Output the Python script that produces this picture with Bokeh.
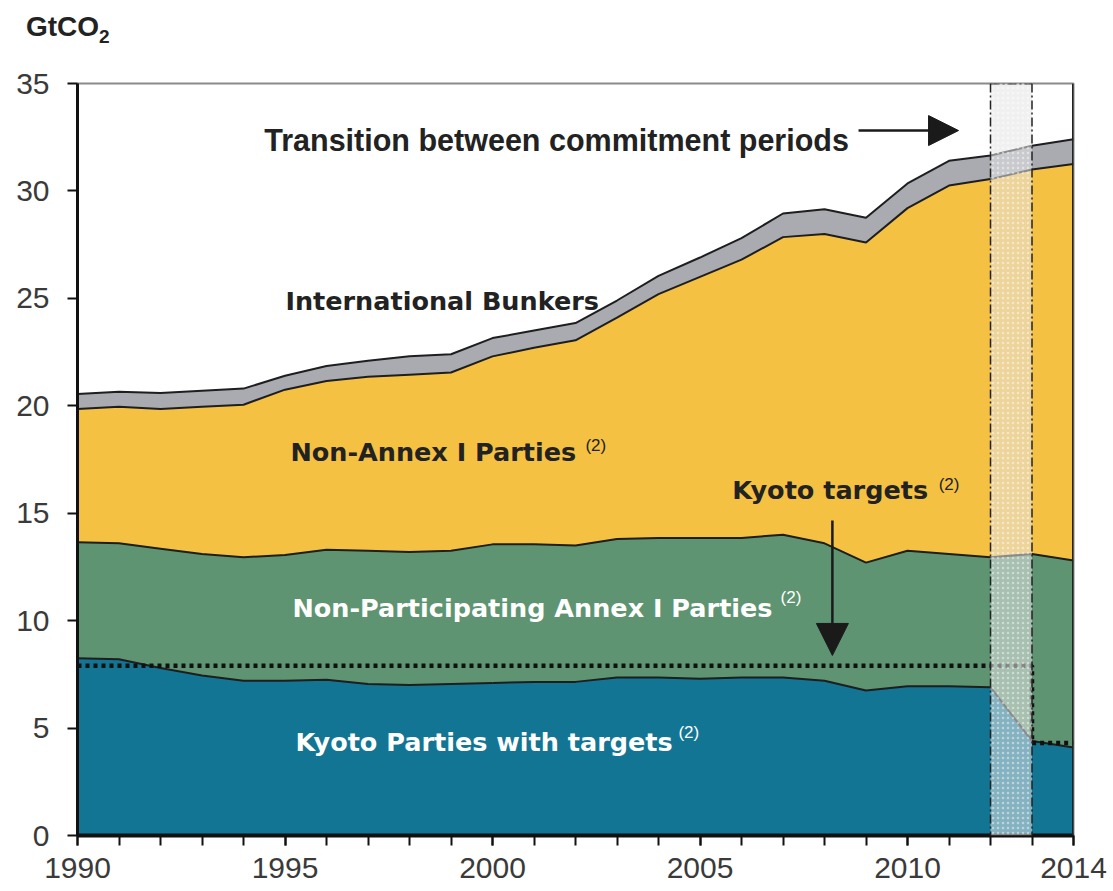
from bokeh.plotting import figure
from bokeh.models import (ColumnDataSource, FixedTicker, Label, Arrow, NormalHead, Span,
                          BoxAnnotation, Div)
from bokeh.layouts import column
from bokeh.embed import file_html
from bokeh.resources import INLINE

# ---------------- data (GtCO2) ----------------
years = list(range(1990, 2015))
kyoto_parties = [8.25, 8.2, 7.8, 7.45, 7.2, 7.2, 7.25, 7.05, 7.0, 7.05, 7.1, 7.15, 7.15,
                 7.35, 7.35, 7.3, 7.35, 7.35, 7.2, 6.75, 6.95, 6.95, 6.9, 4.4, 4.1]
non_participating = [5.4, 5.4, 5.55, 5.65, 5.75, 5.85, 6.05, 6.2, 6.2, 6.2, 6.45, 6.4, 6.35,
                     6.45, 6.5, 6.55, 6.5, 6.65, 6.4, 5.95, 6.3, 6.15, 6.05, 8.7, 8.7]
non_annex = [6.2, 6.35, 6.5, 6.85, 7.1, 7.7, 7.85, 8.1, 8.25, 8.3, 8.75, 9.15, 9.55,
             10.3, 11.35, 12.15, 12.95, 13.85, 14.4, 14.9, 15.95, 17.15, 17.6, 17.9, 18.45]
bunkers = [0.7, 0.7, 0.75, 0.75, 0.75, 0.65, 0.7, 0.75, 0.85, 0.85, 0.85, 0.8, 0.8,
           0.8, 0.85, 0.9, 1.0, 1.1, 1.15, 1.15, 1.15, 1.15, 1.1, 1.1, 1.15]
target_years = [1990, 2013, 2013, 2014]
target_values = [7.9, 7.9, 4.3, 4.3]
transition = [2012, 2013]
x_ticks = [1990, 1995, 2000, 2005, 2010, 2014]
y_ticks = [0, 5, 10, 15, 20, 25, 30, 35]

series = ["kyoto", "nonpart", "nonannex", "bunkers"]
colors = ["#137594", "#5E9471", "#F5C142", "#A9ABB1"]

src = ColumnDataSource(dict(year=years, kyoto=kyoto_parties, nonpart=non_participating,
                            nonannex=non_annex, bunkers=bunkers))

p = figure(width=1110, height=846, x_range=(1990, 2014), y_range=(0, 35),
           output_backend="svg", toolbar_location=None,
           min_border_left=77, min_border_right=37, min_border_top=38, min_border_bottom=56)
p.grid.visible = False
p.outline_line_color = "#8a8a8a"
p.outline_line_width = 2
p.background_fill_color = "white"
p.border_fill_color = "white"

p.varea_stack(stackers=series, x="year", color=colors, source=src)
p.vline_stack(stackers=series, x="year", line_color="#1e1e1e", line_width=2, source=src)

# Kyoto target (dotted)
p.line(target_years, target_values, line_color="#111111", line_width=4.5, line_dash="4 4")

# transition band
band = BoxAnnotation(left=transition[0], right=transition[1], bottom=0, top=35,
                     fill_color="#E4E4E4", fill_alpha=0.55,
                     hatch_pattern=".", hatch_color="#FFFFFF", hatch_alpha=0.45, hatch_scale=5,
                     line_color=None)
p.add_layout(band)
for xv in transition:
    p.add_layout(Span(location=xv, dimension="height", line_color="#222222",
                      line_width=1.5, line_dash="9 3 2 3"))
p.segment(x0=transition[0], y0=35, x1=transition[1], y1=35, line_color="#222222",
          line_width=3, line_dash="9 3 2 3")
p.add_layout(Span(location=2014, dimension="height", line_color="#222222", line_width=3))

# axes
tick_font = "Liberation Sans"
for ax in (p.xaxis[0], p.yaxis[0]):
    ax.axis_line_color = "#111111"
    ax.major_tick_line_color = "#111111"
    ax.major_tick_line_width = 2
    ax.major_tick_in = 0
    ax.major_tick_out = 10
    ax.major_label_text_font = tick_font
    ax.major_label_text_font_size = "30px"
    ax.major_label_text_color = "#3a3a3a"
p.xaxis.ticker = FixedTicker(ticks=x_ticks, minor_ticks=years)
p.xaxis.axis_line_width = 4
p.xaxis.minor_tick_line_color = "#111111"
p.xaxis.minor_tick_line_width = 2
p.xaxis.minor_tick_in = 0
p.xaxis.minor_tick_out = 10
p.xaxis.major_label_standoff = 12
p.yaxis.ticker = FixedTicker(ticks=y_ticks, minor_ticks=[])
p.yaxis.axis_line_width = 3
p.yaxis.minor_tick_line_color = None
p.yaxis.major_label_standoff = 18

# labels
dark = "#222222"
def lab(x, y, text, size, color=dark, font="DejaVu Sans", style="bold"):
    p.add_layout(Label(x=x, y=y, text=text, text_font=font, text_font_size=size,
                       text_font_style=style, text_color=color, text_baseline="alphabetic",
                       text_align="left"))

lab(1994.50, 32.35, "Transition between commitment periods", "30.5px", font="Liberation Sans")
lab(1995.01, 24.90, "International Bunkers", "25.5px")
lab(1995.13, 17.87, "Non-Annex I Parties", "25.5px")
lab(2002.24, 18.15, "(2)", "17px", font="Liberation Sans", style="normal")
lab(2005.78, 16.06, "Kyoto targets", "25.5px")
lab(2010.75, 16.34, "(2)", "17px", font="Liberation Sans", style="normal")
lab(1995.18, 10.61, "Non-Participating Annex I Parties", "25.5px", color="white")
lab(2006.94, 11.08, "(2)", "17px", color="white", font="Liberation Sans", style="normal")
lab(1995.25, 4.33, "Kyoto Parties with targets", "25.5px", color="white")
lab(2004.48, 4.79, "(2)", "17px", color="white", font="Liberation Sans", style="normal")

# arrows
p.add_layout(Arrow(end=NormalHead(size=30, fill_color="#1a1a1a", line_color="#1a1a1a"),
                   x_start=2008.82, y_start=32.81, x_end=2011.23, y_end=32.81,
                   line_color="#1a1a1a", line_width=2.5))
p.add_layout(Arrow(end=NormalHead(size=32, fill_color="#1a1a1a", line_color="#1a1a1a"),
                   x_start=2008.19, y_start=14.66, x_end=2008.19, y_end=8.38,
                   line_color="#1a1a1a", line_width=2.5))

# unit label above the y axis
unit = Div(text=('<div style="font-family:\'Liberation Sans\';font-size:28px;font-weight:bold;'
                 'color:#222222;margin:0 0 0 26px;padding-top:13px;line-height:28px;">'
                 'GtCO<sub style="font-size:19px;line-height:0;">2</sub></div>'),
           width=300, height=45, margin=0)

layout = column(unit, p, spacing=0)
open("out.html", "w").write(file_html(layout, INLINE))
